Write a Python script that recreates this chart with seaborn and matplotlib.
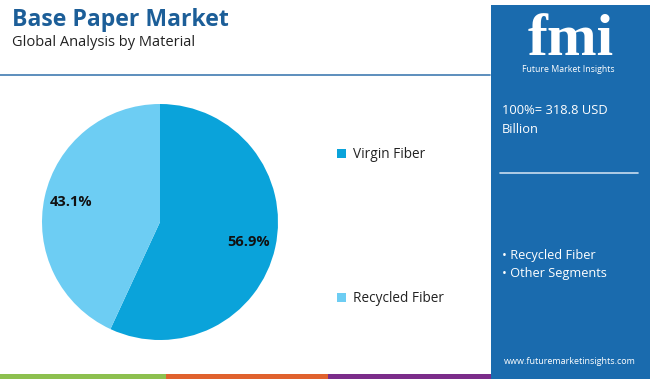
import matplotlib
matplotlib.use("Agg")
import matplotlib.pyplot as plt
import seaborn as sns
from matplotlib.patches import Rectangle

# Data
materials = ["Virgin Fiber", "Recycled Fiber"]
shares = [56.9, 43.1]
slice_colors = ["#0AA3DA", "#6DCDF3"]

title = "Base Paper Market"
subtitle = "Global Analysis by Material"
total_text = "100%= 318.8 USD\nBillion"
panel_items = ["Recycled Fiber", "Other Segments"]
website = "www.futuremarketinsights.com"

PANEL = "#1A6BAE"
TITLE_BLUE = "#1C5E98"


def main():
    sns.set_theme(style="white")
    plt.rcParams["font.family"] = ["Open Sans", "DejaVu Sans"]

    W, H = 650, 379
    fig = plt.figure(figsize=(6.5, 3.79), dpi=100)
    fig.patch.set_facecolor("white")

    # background canvas in pixel coordinates
    bg = fig.add_axes([0, 0, 1, 1])
    bg.set_xlim(0, W)
    bg.set_ylim(H, 0)
    bg.axis("off")

    # title block
    bg.text(12, 26, title, fontsize=16.6, fontweight="bold", color=TITLE_BLUE, va="baseline")
    bg.text(12, 46, subtitle, fontsize=10.5, color="#222222", va="baseline")
    bg.plot([0, 490], [75, 75], color="#4F86B8", lw=1.3)

    # bottom colour strip
    for x0, x1, c in [(0, 166, "#8DC04F"), (166, 328, "#E0622E"), (328, 491, "#7B2D8A")]:
        bg.add_patch(Rectangle((x0, 374), x1 - x0, 5, color=c, lw=0))

    # right panel with logo
    bg.add_patch(Rectangle((491, 5), W - 491, H - 5, color=PANEL, lw=0))
    bg.text(571, 55, "fmi", fontsize=43, fontweight="bold", color="white",
            ha="center", va="baseline", family=["Liberation Serif", "DejaVu Serif"])
    for y in range(22, 57, 4):
        bg.plot([512, 630], [y, y], color=PANEL, lw=0.9)
    bg.text(568, 72, "Future Market Insights", fontsize=6.3, color="white",
            ha="center", va="baseline")
    bg.text(502, 104, total_text, fontsize=9.3, color="white", va="top",
            linespacing=1.6)
    bg.plot([500, 638], [173, 173], color="#C9DDF0", lw=1.2)
    for i, item in enumerate(panel_items):
        bg.text(502, 255 + 18 * i, "\u2022 " + item, fontsize=9.2, color="white", va="center")
    bg.text(570, 362, website, fontsize=6.5, color="white", ha="center", va="center")

    # pie
    cx, cy, r = 160, 222, 118
    ax = fig.add_axes([(cx - r) / W, (H - cy - r) / H, 2 * r / W, 2 * r / H])
    wedges, _, autotexts = ax.pie(
        shares, colors=slice_colors, startangle=90, counterclock=False,
        autopct="%1.1f%%", pctdistance=0.77,
        wedgeprops=dict(linewidth=0),
        textprops=dict(fontsize=10.5, fontweight="bold", color="#111111"),
    )
    ax.set_xlim(-1, 1)
    ax.set_ylim(-1, 1)
    ax.axis("off")

    # legend
    fig.legend(wedges, materials, loc="upper left",
               bbox_to_anchor=(337 / W, 1 - 147 / H), frameon=False,
               borderpad=0, borderaxespad=0,
               fontsize=9.8, handlelength=0.65, handleheight=0.65,
               handletextpad=0.55, labelspacing=9.5, labelcolor="#222222")

    fig.savefig("out.png", dpi=100)
    plt.close(fig)


if __name__ == "__main__":
    main()
